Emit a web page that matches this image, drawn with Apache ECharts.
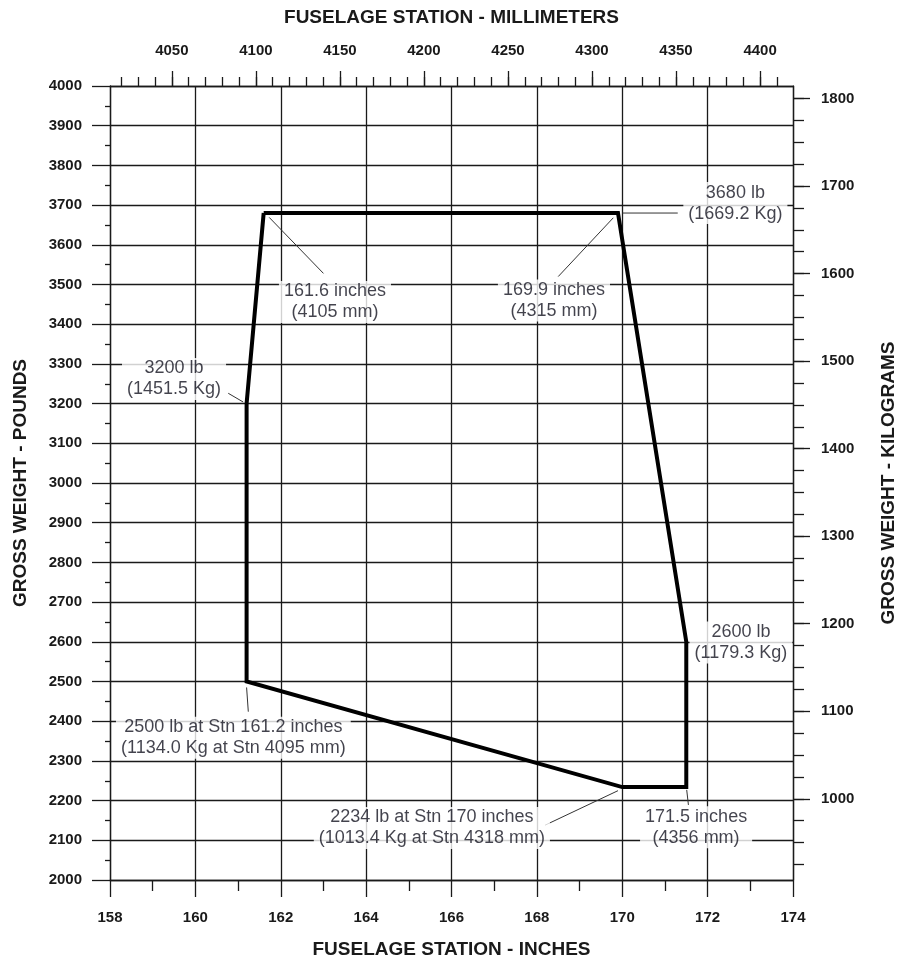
<!DOCTYPE html>
<html>
<head>
<meta charset="utf-8">
<script src="https://cdn.jsdelivr.net/npm/echarts@6/dist/echarts.min.js"></script>
<style>html,body{margin:0;padding:0;background:#fff}#c{width:907px;height:960px}</style>
</head>
<body>
<div id="c"></div>
<script>
// ---- data ----
const envelopeX = [161.6, 169.9, 171.5, 171.5, 170.0, 161.2, 161.2, 161.6];
const envelopeY = [3680, 3680, 2600, 2234, 2234, 2500, 3200, 3680];

const mmLabels = [4050, 4100, 4150, 4200, 4250, 4300, 4350, 4400];
const mmMinor = [4020, 4030, 4040, 4050, 4060, 4070, 4080, 4090, 4100, 4110, 4120, 4130, 4140, 4150, 4160, 4170, 4180, 4190, 4200, 4210, 4220, 4230, 4240, 4250, 4260, 4270, 4280, 4290, 4300, 4310, 4320, 4330, 4340, 4350, 4360, 4370, 4380, 4390, 4400, 4410];
const kgLabels = [1000, 1100, 1200, 1300, 1400, 1500, 1600, 1700, 1800];
const kgMinor = [925, 950, 975, 1000, 1025, 1050, 1075, 1100, 1125, 1150, 1175, 1200, 1225, 1250, 1275, 1300, 1325, 1350, 1375, 1400, 1425, 1450, 1475, 1500, 1525, 1550, 1575, 1600, 1625, 1650, 1675, 1700, 1725, 1750, 1775, 1800];

const annoText = [
  '3680 lb\n(1669.2 Kg)',
  '161.6 inches\n(4105 mm)',
  '169.9 inches\n(4315 mm)',
  '3200 lb\n(1451.5 Kg)',
  '2500 lb at Stn 161.2 inches\n(1134.0 Kg at Stn 4095 mm)',
  '2234 lb at Stn 170 inches\n(1013.4 Kg at Stn 4318 mm)',
  '171.5 inches\n(4356 mm)',
  '2600 lb\n(1179.3 Kg)'
];
const annoX = [172.65, 163.27, 168.40, 159.50, 160.89, 165.54, 171.73, 172.78];
const annoY = [3705, 3456, 3460, 3262, 2358, 2131, 2133, 2598];

const leaderX1 = [170.0, 161.73, 169.79, 160.77, 161.2, 169.9, 171.51];
const leaderY1 = [3680, 3669, 3668, 3226, 2485, 2225, 2227];
const leaderX2 = [171.3, 163.0, 168.5, 161.12, 161.24, 168.19, 171.55];
const leaderY2 = [3680, 3528, 3520, 3204, 2424, 2138, 2189];

// ---- conversions ----
const IN2MM = 25.4, LB2KG = 0.45359237;
const xMin = 158, xMax = 174, yMin = 2000, yMax = 4000;

const FONT = '"Liberation Sans", Arial, sans-serif';
const INK = '#1a1a1a';
const plain = v => String(Math.round(v));
const labelStyle = {color: INK, fontFamily: FONT, fontWeight: 'bold', fontSize: 15, formatter: plain};
const nameStyle = {color: INK, fontFamily: FONT, fontWeight: 'bold', fontSize: 19};
const lineStyle = {color: INK, width: 1.3};

const series = [];
series.push({
  type: 'line', xAxisIndex: 0, yAxisIndex: 0,
  data: envelopeX.map((x, i) => [x, envelopeY[i]]),
  symbol: 'none', lineStyle: {color: '#000', width: 4, join: 'miter'},
  z: 5, silent: true
});
leaderX1.forEach((x, i) => {
  series.push({
    type: 'line', xAxisIndex: 0, yAxisIndex: 0,
    data: [[x, leaderY1[i]], [leaderX2[i], leaderY2[i]]],
    symbol: 'none', lineStyle: {color: '#333', width: 1}, z: 4, silent: true
  });
});
series.push({
  type: 'scatter', xAxisIndex: 0, yAxisIndex: 0, symbolSize: 0, z: 10, silent: true,
  data: annoText.map((t, i) => ({name: t, value: [annoX[i], annoY[i]]})),
  label: {
    show: true, position: 'inside', formatter: '{b}',
    color: '#141420', fontFamily: FONT, fontSize: 18, lineHeight: 21,
    align: 'center', verticalAlign: 'middle',
    backgroundColor: '#fff', padding: [0, 5, 0, 5]
  }
});

const option = {
  animation: false,
  backgroundColor: '#fff',
  grid: {left: 110, right: 114, top: 86, bottom: 80, containLabel: false, outerBoundsMode: 'none'},
  xAxis: [
    {
      type: 'value', position: 'bottom', min: xMin, max: xMax, interval: 2,
      name: 'FUSELAGE STATION - INCHES', nameLocation: 'middle', nameGap: 60, nameTextStyle: nameStyle,
      axisLine: {show: true, onZero: false, lineStyle},
      axisTick: {show: true, length: 17, lineStyle},
      minorTick: {show: true, splitNumber: 2, length: 11, lineStyle},
      axisLabel: Object.assign({margin: 30}, labelStyle),
      splitLine: {show: true, lineStyle}
    },
    {
      type: 'value', position: 'top', min: xMin * IN2MM, max: xMax * IN2MM,
      name: 'FUSELAGE STATION - MILLIMETERS', nameLocation: 'middle', nameGap: 59, nameTextStyle: nameStyle,
      axisLine: {show: true, onZero: false, lineStyle},
      axisTick: {show: true, length: 9, lineStyle, customValues: mmMinor},
      axisLabel: Object.assign({margin: 28, customValues: mmLabels}, labelStyle),
      splitLine: {show: false}
    },
    {
      type: 'value', position: 'top', min: xMin * IN2MM, max: xMax * IN2MM,
      axisLine: {show: false, onZero: false},
      axisTick: {show: true, length: 15, lineStyle, customValues: mmLabels},
      axisLabel: {show: false},
      splitLine: {show: false}
    }
  ],
  yAxis: [
    {
      type: 'value', position: 'left', min: yMin, max: yMax, interval: 100,
      name: 'GROSS WEIGHT - POUNDS', nameLocation: 'middle', nameGap: 80, nameRotate: 90, nameTextStyle: nameStyle,
      axisLine: {show: true, onZero: false, lineStyle},
      axisTick: {show: true, length: 18, lineStyle},
      minorTick: {show: true, splitNumber: 2, length: 5, lineStyle},
      axisLabel: Object.assign({margin: 28}, labelStyle),
      splitLine: {show: true, lineStyle}
    },
    {
      type: 'value', position: 'right', min: yMin * LB2KG, max: yMax * LB2KG,
      name: 'GROSS WEIGHT - KILOGRAMS', nameLocation: 'middle', nameGap: 86, nameRotate: 90, nameTextStyle: nameStyle,
      axisLine: {show: true, onZero: false, lineStyle},
      axisTick: {show: true, length: 11, lineStyle, customValues: kgMinor},
      axisLabel: Object.assign({margin: 28, customValues: kgLabels}, labelStyle),
      splitLine: {show: false}
    },
    {
      type: 'value', position: 'right', min: yMin * LB2KG, max: yMax * LB2KG,
      axisLine: {show: false, onZero: false},
      axisTick: {show: true, length: 17, lineStyle, customValues: kgLabels},
      axisLabel: {show: false},
      splitLine: {show: false}
    }
  ],
  series
};
echarts.init(document.getElementById('c'), null, {renderer: 'canvas'}).setOption(option);
</script>
</body>
</html>
